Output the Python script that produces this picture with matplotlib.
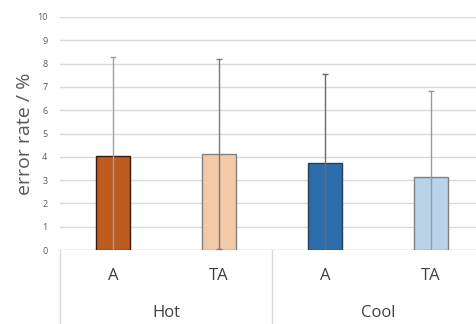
import matplotlib
matplotlib.use("Agg")
import matplotlib.pyplot as plt
from matplotlib.transforms import blended_transform_factory

plt.rcParams['font.family'] = ['Open Sans', 'DejaVu Sans']

groups = ["Hot", "Cool"]
conditions = ["A", "TA", "A", "TA"]
values = [4.05, 4.12, 3.72, 3.15]
errors = [4.23, 4.06, 3.85, 3.69]
colors = ["#be5b1f", "#f2c9a9", "#2c6eab", "#bad3ea"]
edgecolors = ["#3a1a0a", "#808080", "#2a3f55", "#808080"]
ecolors = ["#a0a0a0", "#7a7a7a", "#6a6a6a", "#9a9a9a"]
yticks = list(range(0, 11))

W, H = 477, 324
fig = plt.figure(figsize=(W / 100, H / 100), dpi=100)
left, right, top, bottom = 60, 484, 17, 250
ax = fig.add_axes([left / W, (H - bottom) / H, (right - left) / W, (bottom - top) / H])
ax.set_xlim(0, 4)
ax.set_ylim(0, 10)

x = [i + 0.5 for i in range(len(values))]
for xi, v, e, c, ec, erc in zip(x, values, errors, colors, edgecolors, ecolors):
    ax.bar(xi, v, width=0.32, color=c, edgecolor=ec, linewidth=1.0, zorder=3)
    ax.errorbar(xi, v, yerr=e, ecolor=erc, elinewidth=1.0, capsize=2, capthick=1.0,
                fmt='none', zorder=4)

ax.set_yticks(yticks)
ax.set_yticklabels([str(t) for t in yticks], fontsize=6.5, color="#595959")
ax.tick_params(axis='y', length=0, pad=9)
ax.set_xticks([])
ax.grid(axis='y', color="#d9d9d9", linewidth=1.0, zorder=0)
for s in ax.spines.values():
    s.set_visible(False)
ax.axhline(0, color="#d9d9d9", linewidth=1.0, zorder=2)

ax.set_ylabel("error rate / %", fontsize=14, color="#595959", labelpad=2)

trans = blended_transform_factory(ax.transData, ax.transAxes)
ph = bottom - top
for gx in [0, 2, 4]:
    ax.plot([gx, gx], [0, -(H - bottom + 5) / ph], transform=trans, color="#d9d9d9",
            linewidth=1.0, clip_on=False)
for xi, lab in zip(x, conditions):
    ax.text(xi, -26 / ph, lab, transform=trans, ha='center', va='center',
            fontsize=12, color="#404040")
for gi, g in enumerate(groups):
    ax.text(gi * 2 + 1, -63 / ph, g, transform=trans, ha='center', va='center',
            fontsize=12, color="#404040")

fig.savefig("out.png", dpi=100)
